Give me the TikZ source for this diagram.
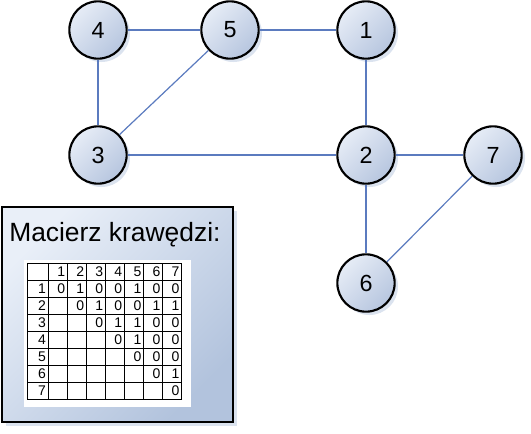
\documentclass[tikz,border=0pt]{standalone}
\usepackage{fontspec}
\setmainfont{Liberation Sans}
\usetikzlibrary{shadows}
\definecolor{edgec}{HTML}{5B7BBF}
\definecolor{nlight}{HTML}{E6ECF6}
\definecolor{ndark}{HTML}{B7C6DF}
\definecolor{shadc}{HTML}{D3DCEB}
\definecolor{blight}{HTML}{E9EFF8}
\definecolor{bdark}{HTML}{B2C3DD}
\begin{document}
\begin{tikzpicture}[x=0.75pt,y=-0.75pt,
  vert/.style={circle, draw=black, line width=1.6pt, minimum size=43pt, inner sep=0pt,
    top color=nlight, bottom color=ndark, shading angle=45,
    font=\fontsize{17.5}{20}\selectfont,
    drop shadow={shadow xshift=2.5pt, shadow yshift=-2.5pt, fill=shadc, opacity=0.8}},
  link/.style={draw=edgec, line width=0.9pt},
  framebox/.style={draw=black, line width=1.9pt, top color=blight, bottom color=bdark, shading angle=45,
    drop shadow={shadow xshift=3pt, shadow yshift=-3pt, fill=shadc, opacity=0.8}},
  grid/.style={draw=black, line width=0.6pt},
  cell/.style={anchor=east, inner sep=0pt, font=\fontsize{10.5}{11}\selectfont}]
\useasboundingbox (0,0) rectangle (531,433);
\fill[white] (0,0) rectangle (531,433);

% graph
\node[vert] (n4) at (98,30) {4};
\node[vert] (n5) at (230,30) {5};
\node[vert] (n1) at (366,30) {1};
\node[vert] (n3) at (98,155) {3};
\node[vert] (n2) at (366,155) {2};
\node[vert] (n7) at (493,155) {7};
\node[vert] (n6) at (366,283) {6};

\path[link] (n4) -- (n5);
\path[link] (n5) -- (n1);
\path[link] (n4) -- (n3);
\path[link] (n3) -- (n5);
\path[link] (n3) -- (n2);
\path[link] (n1) -- (n2);
\path[link] (n2) -- (n7);
\path[link] (n2) -- (n6);
\path[link] (n6) -- (n7);

% matrix box
\path[framebox] (2,207) rectangle (233,422);
\node[anchor=west, inner sep=0pt, font=\fontsize{19.8}{22}\selectfont] (title) at (9,235) {Macierz krawędzi:};
\fill[white] (24,260) rectangle (191,407);
\foreach \k in {0,...,8} {
  \draw[grid] (27,{263+17*\k}) -- (181.7,{263+17*\k});
}
\draw[grid] (27,263) -- (27,399);
\foreach \k in {0,...,7} {
  \draw[grid] ({48.3+19.06*\k},263) -- ({48.3+19.06*\k},399);
}
\foreach \j in {1,...,7} {
  \node[cell] at ({48.3+19.06*\j-2},{263+8.5}) {\j};
  \node[cell] at ({48.3-2},{263+17*\j+8.5}) {\j};
}
\foreach \i/\j/\v in {1/1/0,1/2/1,1/3/0,1/4/0,1/5/1,1/6/0,1/7/0,
  2/2/0,2/3/1,2/4/0,2/5/0,2/6/1,2/7/1,
  3/3/0,3/4/1,3/5/1,3/6/0,3/7/0,
  4/4/0,4/5/1,4/6/0,4/7/0,
  5/5/0,5/6/0,5/7/0,
  6/6/0,6/7/1,
  7/7/0} {
  \node[cell] at ({48.3+19.06*\j-2},{263+17*\i+8.5}) {\v};
}
\end{tikzpicture}
\end{document}
